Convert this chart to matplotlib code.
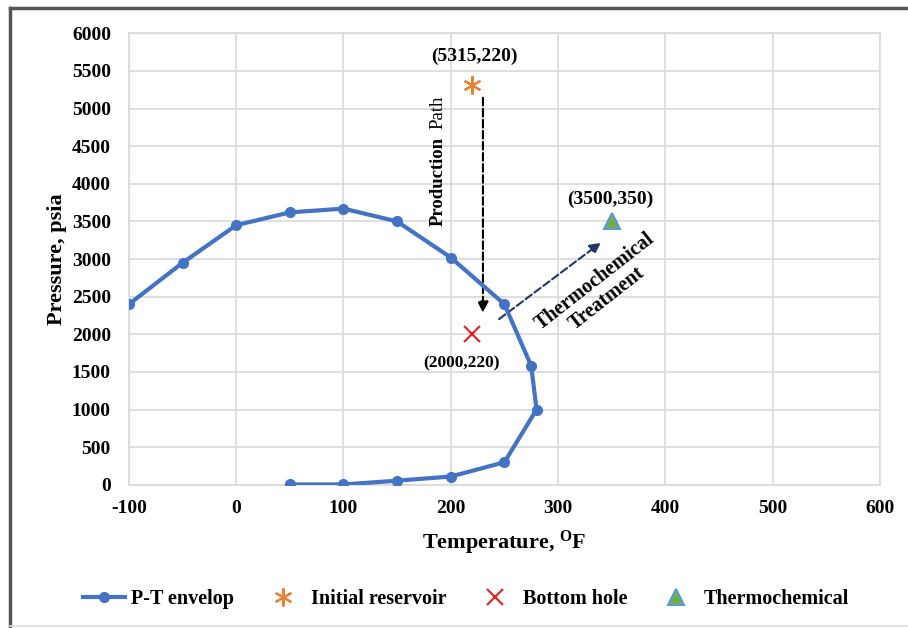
import numpy as np
import matplotlib
matplotlib.use('Agg')
import matplotlib.pyplot as plt
from matplotlib.lines import Line2D

# P-T envelope (temperature degF, pressure psia)
env_temp = [-100, -50, 0, 50, 100, 150, 200, 250, 275, 280, 250, 200, 150, 100, 50]
env_pres = [2400, 2950, 3450, 3620, 3670, 3500, 3020, 2400, 1580, 1000, 300, 110, 55, 5, 5]

initial_pt = (220, 5315)
bottom_pt = (220, 2000)
thermo_pt = (350, 3500)

x_ticks = [-100, 0, 100, 200, 300, 400, 500, 600]
y_ticks = list(range(0, 6001, 500))

plt.rcParams['font.family'] = 'Liberation Serif'
plt.rcParams['font.weight'] = 'bold'
plt.rcParams['axes.unicode_minus'] = False
plt.rcParams['mathtext.fontset'] = 'custom'
plt.rcParams['mathtext.rm'] = 'Liberation Serif'
plt.rcParams['mathtext.bf'] = 'Liberation Serif:bold'

fig = plt.figure(figsize=(9.08, 6.28), dpi=100)
ax = fig.add_axes([0.142, 0.228, 0.827, 0.719])

ax.plot(env_temp, env_pres, color='#4472C4', linewidth=3, marker='o', markersize=7,
        label='P-T envelop', zorder=4)
ax.plot(*initial_pt, linestyle='none', marker=(6, 2, 0), markersize=13, color='#ED7D31',
        markeredgewidth=1.5, label='Initial reservoir', zorder=5)
ax.plot(*bottom_pt, linestyle='none', marker='x', markersize=11, color='#E02020',
        markeredgewidth=1.5, label='Bottom hole', zorder=5)
ax.plot(*thermo_pt, linestyle='none', marker='^', markersize=12, markerfacecolor='#70AD47',
        markeredgecolor='#5B9BD5', markeredgewidth=1.5, label='Thermochemical', zorder=5)

# production path arrow
ax.annotate('', xy=(230, 2250), xytext=(230, 5180),
            arrowprops=dict(arrowstyle='-|>', linestyle='--', color='black', lw=1.5,
                            mutation_scale=16))
ax.text(188, 3440, 'Production', rotation=90, fontsize=13.5, fontweight='bold',
        ha='center', va='bottom')
ax.text(188, 4730, 'Path', rotation=90, fontsize=13.5, fontweight='normal',
        ha='center', va='bottom')

# thermochemical treatment arrow
ax.annotate('', xy=(342, 3240), xytext=(243, 2180),
            arrowprops=dict(arrowstyle='-|>', linestyle='--', color='#203864', lw=1.5,
                            mutation_scale=16))
ax.text(340, 2590, 'Thermochemical\nTreatment', rotation=38, fontsize=14.5,
        fontweight='bold', ha='center', va='center', linespacing=1.05)

ax.text(222, 5695, '(5315,220)', fontsize=14, fontweight='bold', ha='center', va='center')
ax.text(349, 3800, '(3500,350)', fontsize=14, fontweight='bold', ha='center', va='center')
ax.text(210, 1610, '(2000,220)', fontsize=12.5, fontweight='bold', ha='center', va='center')

ax.set_xlim(-100, 600)
ax.set_ylim(0, 6000)
ax.set_xticks(x_ticks)
ax.set_yticks(y_ticks)
ax.tick_params(axis='y', length=0, labelsize=14, pad=13)
ax.tick_params(axis='x', length=0, labelsize=14, pad=11)
ax.grid(True, color='#D9D9D9', linewidth=1.2)
ax.set_axisbelow(True)
for side, sp in ax.spines.items():
    sp.set_color('#D9D9D9')
    sp.set_linewidth(1.2)

ax.set_xlabel(r'Temperature, $\mathbf{^{O}}$F', fontsize=16, fontweight='bold')
ax.set_ylabel('Pressure, psia', fontsize=16, fontweight='bold')
ax.xaxis.set_label_coords(0.5, -0.097)
ax.yaxis.set_label_coords(-0.082, 0.5)

handles, labels = ax.get_legend_handles_labels()
fig.legend(handles, labels, loc='center', bbox_to_anchor=(0.513, 0.046), ncol=4,
           frameon=False, fontsize=14.5, handlelength=2.1, columnspacing=1.4,
           handletextpad=0.3)

# outer frame
fig.add_artist(Line2D([0.011, 1.0], [0.988, 0.988], color='#555555', lw=2.5,
                      transform=fig.transFigure))
fig.add_artist(Line2D([0.011, 0.011], [0.003, 0.988], color='#555555', lw=2.5,
                      transform=fig.transFigure))
fig.add_artist(Line2D([0.011, 1.0], [0.003, 0.003], color='#DDDDDD', lw=1.2,
                      transform=fig.transFigure))

plt.savefig('out.png', dpi=100)
